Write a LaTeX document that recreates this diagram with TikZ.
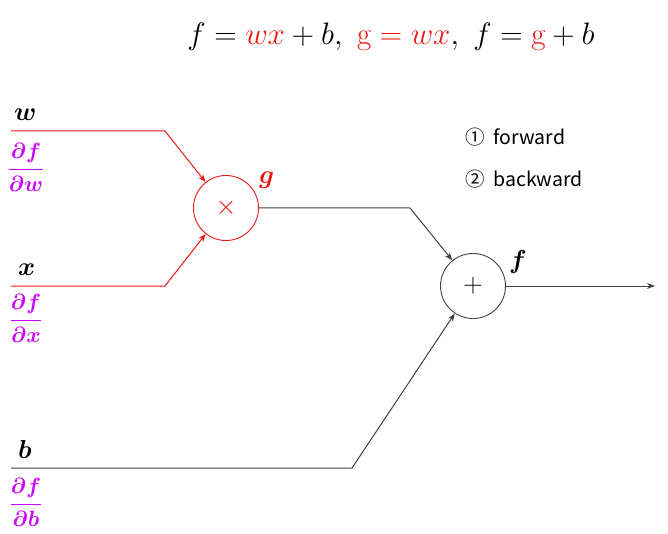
\RequirePackage{fix-cm}
\documentclass[tikz,border=0pt]{standalone}
\usepackage{amsmath}
\usepackage{bm}
\usepackage{fontspec}
\newfontfamily\legendfont{Noto Sans CJK SC}
\usetikzlibrary{positioning,arrows.meta,calc}
\definecolor{fwdred}{RGB}{240,20,20}
\definecolor{gradpurple}{RGB}{204,0,255}
\definecolor{wiregray}{RGB}{64,64,64}

\begin{document}
\begin{tikzpicture}[x=1pt,y=-1pt,
    gate/.style={circle,draw,line width=0.9pt,minimum size=65pt,inner sep=0pt,font=\fontsize{27}{27}\selectfont},
    wire/.style={line width=1pt},
    tip/.style={-{Stealth[length=8pt,width=6pt]}},
    varlab/.style={anchor=base west,inner sep=0pt,font=\fontsize{26}{26}\selectfont},
    gradlab/.style={text=gradpurple,inner sep=0pt,font=\fontsize{22}{22}\selectfont},
    legend/.style={anchor=west,inner sep=0pt,font=\legendfont\fontsize{19.5}{19.5}\selectfont}]
    \useasboundingbox (0,0) rectangle (668,534);
    % equations
    \node (eq) at (391,37) {\fontsize{31}{31}\selectfont $f = \textcolor{fwdred}{wx} + b,\ \textcolor{fwdred}{\mathrm{g} = wx},\ f = \textcolor{fwdred}{\mathrm{g}} + b$};
    % gates
    \node[gate,draw=fwdred,text=fwdred] (mul) at (226,208) {$\times$};
    \node[gate,draw=wiregray] (add) at (473,286) {$+$};
    \node[varlab,text=fwdred] (glab) at (259,184) {$\bm{g}$};
    \node[varlab] (flab) at (509,269) {$\bm{f}$};
    % inputs
    \coordinate (w0) at (11,131);
    \coordinate (w1) at (165,131);
    \coordinate (x0) at (11,286);
    \coordinate (x1) at (165,286);
    \coordinate (b0) at (11,468);
    \coordinate (b1) at (352,468);
    \coordinate (g1) at (410,208);
    \coordinate (out) at (655,286);
    \node[varlab] (wlab) at (14,121) {$\bm{w}$};
    \node[varlab] (xlab) at (18,275) {$\bm{x}$};
    \node[varlab] (blab) at (18,458) {$\bm{b}$};
    \node[gradlab] (dw) at (26,167) {$\displaystyle\bm{\frac{\partial f}{\partial w}}$};
    \node[gradlab] (dx) at (26,318) {$\displaystyle\bm{\frac{\partial f}{\partial x}}$};
    \node[gradlab] (db) at (26,502) {$\displaystyle\bm{\frac{\partial f}{\partial b}}$};
    % wires
    \draw[wire,fwdred,tip] (w0) -- (w1) -- (mul);
    \draw[wire,fwdred,tip] (x0) -- (x1) -- (mul);
    \draw[wire,wiregray,tip] (mul.east) -- (g1) -- (add);
    \draw[wire,wiregray,tip] (b0) -- (b1) -- (add);
    \draw[wire,wiregray,tip] (add.east) -- (out);
    % legend
    \node[legend] (fwd) at (465,137) {①\ \ forward};
    \node[legend] (bwd) at (465,179) {②\ \ backward};
\end{tikzpicture}
\end{document}
